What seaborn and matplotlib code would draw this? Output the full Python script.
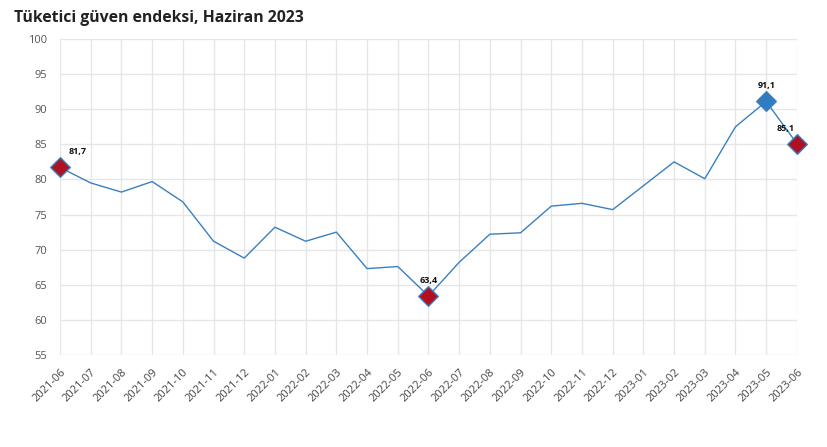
import pandas as pd
import seaborn as sns
import matplotlib.pyplot as plt

# Tüketici güven endeksi, monthly values
months = ['2021-06', '2021-07', '2021-08', '2021-09', '2021-10', '2021-11', '2021-12',
          '2022-01', '2022-02', '2022-03', '2022-04', '2022-05', '2022-06', '2022-07',
          '2022-08', '2022-09', '2022-10', '2022-11', '2022-12', '2023-01', '2023-02',
          '2023-03', '2023-04', '2023-05', '2023-06']
values = [81.7, 79.5, 78.2, 79.7, 76.8, 71.2, 68.8, 73.2, 71.2, 72.5, 67.3, 67.6, 63.4,
          68.2, 72.2, 72.4, 76.2, 76.6, 75.7, 79.1, 82.5, 80.1, 87.5, 91.1, 85.1]
highlight_red = ['2021-06', '2022-06', '2023-06']
highlight_blue = ['2023-05']

df = pd.DataFrame({'month': months, 'value': values})
df['pos'] = range(len(df))

sns.set_style('white')
plt.rcParams['font.family'] = ['Open Sans', 'DejaVu Sans']

fig = plt.figure(figsize=(8.27, 4.47), dpi=100)
ax = fig.add_axes([0.0726, 0.2058, 0.891, 0.707])

line_color = '#3a80c0'
sns.lineplot(data=df, x='pos', y='value', color=line_color, linewidth=1.0, ax=ax)

red = df[df['month'].isin(highlight_red)]
blue = df[df['month'].isin(highlight_blue)]
for sub, fc in [(red, '#b01020'), (blue, '#2f7dc0')]:
    sns.scatterplot(data=sub, x='pos', y='value', marker='D', s=100, color=fc,
                    edgecolor=line_color, linewidth=1.0, ax=ax, zorder=5, clip_on=False)

last = len(months) - 1
for _, r in pd.concat([red, blue]).iterrows():
    dx = 13 if r['pos'] == 0 else (-8 if r['pos'] == last else 0)
    ax.annotate(f"{r['value']:.1f}".replace('.', ','), (r['pos'], r['value']),
                xytext=(dx, 8), textcoords='offset points', ha='center', va='bottom',
                fontsize=6.5, fontweight='bold', color='#111111')

ax.set_xlim(0, last)
ax.set_ylim(55, 100)
ax.set_xticks(df['pos'])
ax.set_xticklabels(months, rotation=45, ha='right', rotation_mode='anchor',
                   fontsize=8, color='#444444')
ax.set_yticks(range(55, 101, 5))
ax.tick_params(axis='y', labelsize=8, labelcolor='#555555', length=6, color='#dddddd')
ax.tick_params(axis='x', length=5, color='#dddddd')
ax.grid(True, color='#e6e6e6', linewidth=1)
for s in ax.spines.values():
    s.set_visible(False)
ax.set_xlabel('')
ax.set_ylabel('')

fig.text(0.017, 0.96, 'Tüketici güven endeksi, Haziran 2023', fontsize=11.3,
         fontweight='bold', color='#222222', ha='left', va='center')

fig.savefig('out.png', dpi=100)
